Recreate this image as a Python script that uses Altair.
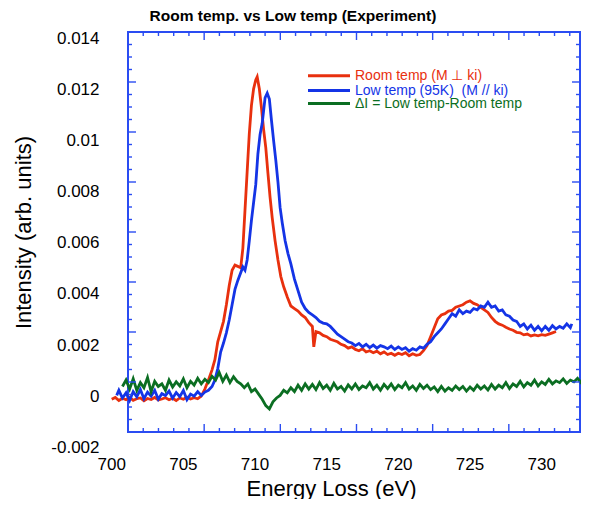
import altair as alt
import pandas as pd

# ---------------- data ----------------
# (energy loss in eV, intensity in arb. units)
room = [
    (700.00, -1.0e-4), (700.25, -0.3e-4), (700.50, -1.5e-4), (700.75, -0.6e-4), (701.00, -1.2e-4),
    (701.25, -0.2e-4), (701.50, -1.4e-4), (701.75, -0.8e-4), (702.00, -0.5e-4), (702.25, -1.6e-4),
    (702.50, -0.7e-4), (702.75, -1.1e-4), (703.00, -0.3e-4), (703.25, -1.3e-4), (703.50, -0.9e-4),
    (703.75, -0.4e-4), (704.00, -1.2e-4), (704.25, -0.6e-4), (704.50, -1.5e-4), (704.75, -0.5e-4),
    (705.00, -1.0e-4), (705.25, -0.2e-4), (705.50, -0.9e-4), (705.75, -0.4e-4), (706.00, -0.8e-4),
    (706.25, 0.2e-4), (706.50, 3.0e-4), (706.75, 6.5e-4), (707.00, 10.5e-4), (707.20, 14.5e-4),
    (707.40, 21.5e-4), (707.60, 25.5e-4), (707.80, 29.5e-4), (708.00, 36.0e-4), (708.20, 43.5e-4),
    (708.40, 49.5e-4), (708.60, 51.5e-4), (708.80, 51.0e-4), (709.00, 50.5e-4), (709.15, 58.0e-4),
    (709.30, 73.0e-4), (709.45, 88.0e-4), (709.60, 103.0e-4), (709.75, 114.0e-4), (709.90, 120.5e-4),
    (710.05, 124.0e-4), (710.15, 125.2e-4), (710.30, 120.5e-4), (710.45, 113.0e-4), (710.60, 104.5e-4),
    (710.75, 97.5e-4), (710.90, 87.5e-4), (711.05, 78.0e-4), (711.20, 70.0e-4), (711.40, 61.0e-4),
    (711.60, 53.5e-4), (711.80, 47.0e-4), (712.00, 43.0e-4), (712.25, 39.0e-4), (712.50, 35.5e-4),
    (712.75, 34.5e-4), (713.00, 33.5e-4), (713.25, 32.0e-4), (713.50, 31.0e-4), (713.75, 29.0e-4),
    (714.00, 27.5e-4), (714.10, 19.5e-4), (714.25, 25.5e-4), (714.50, 25.0e-4), (714.75, 24.0e-4),
    (715.00, 23.5e-4), (715.25, 22.5e-4), (715.50, 22.0e-4), (715.75, 21.5e-4), (716.00, 20.5e-4),
    (716.25, 20.0e-4), (716.50, 19.0e-4), (716.75, 19.5e-4), (717.00, 18.5e-4), (717.25, 18.0e-4),
    (717.50, 18.8e-4), (717.75, 17.5e-4), (718.00, 18.0e-4), (718.25, 17.2e-4), (718.50, 17.8e-4),
    (718.75, 16.8e-4), (719.00, 17.5e-4), (719.25, 16.5e-4), (719.50, 17.0e-4), (719.75, 16.2e-4),
    (720.00, 17.0e-4), (720.25, 16.5e-4), (720.50, 17.2e-4), (720.75, 16.0e-4), (721.00, 16.8e-4),
    (721.25, 16.2e-4), (721.50, 16.5e-4), (721.75, 18.0e-4), (722.00, 20.0e-4), (722.25, 23.5e-4),
    (722.50, 27.0e-4), (722.75, 30.5e-4), (723.00, 32.0e-4), (723.25, 32.5e-4), (723.50, 33.5e-4),
    (723.75, 33.8e-4), (724.00, 35.0e-4), (724.25, 35.5e-4), (724.50, 36.0e-4), (724.75, 37.0e-4),
    (725.00, 37.5e-4), (725.25, 36.5e-4), (725.50, 36.0e-4), (725.75, 35.0e-4), (726.00, 34.0e-4),
    (726.25, 33.0e-4), (726.50, 31.0e-4), (726.75, 29.5e-4), (727.00, 28.5e-4), (727.25, 28.0e-4),
    (727.50, 27.2e-4), (727.75, 26.5e-4), (728.00, 26.0e-4), (728.25, 25.2e-4), (728.50, 25.0e-4),
    (728.75, 24.2e-4), (729.00, 24.5e-4), (729.25, 23.8e-4), (729.50, 24.2e-4), (729.75, 23.8e-4),
    (730.00, 24.3e-4), (730.25, 24.0e-4), (730.50, 24.5e-4), (730.75, 25.0e-4), (731.00, 25.5e-4),
]

low = [
    (700.35, 0.5e-4), (700.50, 2.5e-4), (700.75, -0.5e-4), (701.00, 1.5e-4), (701.25, -1.5e-4),
    (701.50, 2.0e-4), (701.75, 0.0e-4), (702.00, 2.8e-4), (702.25, -0.8e-4), (702.50, 1.8e-4),
    (702.75, 0.2e-4), (703.00, 2.5e-4), (703.25, -1.0e-4), (703.50, 1.2e-4), (703.75, 0.5e-4),
    (704.00, 2.2e-4), (704.25, -0.6e-4), (704.50, 1.6e-4), (704.75, 0.0e-4), (705.00, 2.4e-4),
    (705.25, -1.2e-4), (705.50, 1.0e-4), (705.75, 0.2e-4), (706.00, 2.0e-4), (706.25, 0.5e-4),
    (706.50, 1.8e-4), (706.75, 2.5e-4), (707.00, 4.0e-4), (707.20, 6.5e-4), (707.40, 11.0e-4),
    (707.60, 17.5e-4), (707.80, 21.0e-4), (708.00, 25.0e-4), (708.20, 30.0e-4), (708.40, 36.0e-4),
    (708.60, 42.0e-4), (708.80, 45.5e-4), (709.00, 48.5e-4), (709.15, 50.8e-4), (709.30, 49.5e-4),
    (709.45, 53.5e-4), (709.60, 61.0e-4), (709.75, 69.0e-4), (709.90, 76.0e-4), (710.05, 83.0e-4),
    (710.20, 95.0e-4), (710.35, 102.5e-4), (710.50, 107.0e-4), (710.60, 112.0e-4), (710.70, 117.0e-4),
    (710.85, 118.8e-4), (711.00, 116.5e-4), (711.15, 108.0e-4), (711.30, 100.0e-4), (711.45, 92.5e-4),
    (711.60, 84.0e-4), (711.75, 74.0e-4), (711.90, 68.0e-4), (712.10, 61.0e-4), (712.30, 56.0e-4),
    (712.50, 52.0e-4), (712.75, 46.0e-4), (713.00, 41.5e-4), (713.25, 37.0e-4), (713.50, 34.5e-4),
    (713.75, 33.0e-4), (714.00, 32.0e-4), (714.25, 31.0e-4), (714.50, 29.5e-4), (714.75, 28.8e-4),
    (715.00, 28.5e-4), (715.25, 27.5e-4), (715.50, 26.0e-4), (715.75, 24.5e-4), (716.00, 23.5e-4),
    (716.25, 22.5e-4), (716.50, 21.5e-4), (716.75, 21.0e-4), (717.00, 20.0e-4), (717.25, 20.8e-4),
    (717.50, 19.5e-4), (717.75, 20.5e-4), (718.00, 19.2e-4), (718.25, 20.2e-4), (718.50, 19.0e-4),
    (718.75, 20.0e-4), (719.00, 19.5e-4), (719.25, 18.8e-4), (719.50, 19.8e-4), (719.75, 18.5e-4),
    (720.00, 19.5e-4), (720.25, 18.5e-4), (720.50, 19.2e-4), (720.75, 17.8e-4), (721.00, 18.8e-4),
    (721.25, 18.2e-4), (721.50, 19.5e-4), (721.75, 19.0e-4), (722.00, 20.5e-4), (722.25, 21.5e-4),
    (722.50, 23.5e-4), (722.75, 25.0e-4), (723.00, 26.5e-4), (723.25, 28.5e-4), (723.50, 30.5e-4),
    (723.75, 32.5e-4), (724.00, 31.5e-4), (724.25, 34.0e-4), (724.50, 32.5e-4), (724.75, 33.5e-4),
    (725.00, 33.0e-4), (725.25, 34.5e-4), (725.50, 34.0e-4), (725.75, 35.5e-4), (726.00, 35.0e-4),
    (726.25, 37.0e-4), (726.50, 35.0e-4), (726.75, 35.5e-4), (727.00, 33.5e-4), (727.25, 34.0e-4),
    (727.50, 32.0e-4), (727.75, 31.5e-4), (728.00, 30.0e-4), (728.25, 29.5e-4), (728.50, 27.5e-4),
    (728.75, 28.5e-4), (729.00, 26.5e-4), (729.25, 28.0e-4), (729.50, 26.0e-4), (729.75, 27.5e-4),
    (730.00, 25.8e-4), (730.25, 27.5e-4), (730.50, 26.0e-4), (730.75, 27.8e-4), (731.00, 26.5e-4),
    (731.25, 27.5e-4), (731.50, 26.8e-4), (731.75, 28.5e-4), (732.00, 27.0e-4), (732.10, 28.5e-4),
]

diff = [
    (700.75, 4.0e-4), (701.00, 6.5e-4), (701.25, 3.0e-4), (701.50, 7.0e-4), (701.75, 2.5e-4),
    (702.00, 5.5e-4), (702.25, 3.5e-4), (702.50, 7.5e-4), (702.75, 2.0e-4), (703.00, 6.0e-4),
    (703.25, 4.0e-4), (703.50, 5.0e-4), (703.75, 2.5e-4), (704.00, 6.5e-4), (704.25, 3.8e-4),
    (704.50, 5.8e-4), (704.75, 4.2e-4), (705.00, 7.0e-4), (705.25, 3.5e-4), (705.50, 6.0e-4),
    (705.75, 4.5e-4), (706.00, 7.2e-4), (706.25, 5.0e-4), (706.50, 6.8e-4), (706.75, 5.5e-4),
    (707.00, 8.0e-4), (707.25, 6.5e-4), (707.50, 9.5e-4), (707.75, 6.0e-4), (708.00, 8.5e-4),
    (708.25, 5.5e-4), (708.50, 7.8e-4), (708.75, 6.0e-4), (709.00, 5.0e-4), (709.25, 3.5e-4),
    (709.50, 5.0e-4), (709.75, 2.0e-4), (710.00, 3.0e-4), (710.25, 1.0e-4), (710.50, -1.0e-4),
    (710.75, -3.5e-4), (711.00, -4.8e-4), (711.25, -2.0e-4), (711.50, -0.5e-4), (711.75, 0.5e-4),
    (712.00, 2.5e-4), (712.25, 1.5e-4), (712.50, 3.5e-4), (712.75, 2.0e-4), (713.00, 4.5e-4),
    (713.25, 2.5e-4), (713.50, 5.0e-4), (713.75, 3.0e-4), (714.00, 4.8e-4), (714.25, 2.8e-4),
    (714.50, 5.5e-4), (714.75, 3.2e-4), (715.00, 4.5e-4), (715.25, 2.5e-4), (715.50, 5.2e-4),
    (715.75, 3.0e-4), (716.00, 4.0e-4), (716.25, 2.2e-4), (716.50, 4.6e-4), (716.75, 3.0e-4),
    (717.00, 5.0e-4), (717.25, 2.8e-4), (717.50, 4.2e-4), (717.75, 3.5e-4), (718.00, 5.5e-4),
    (718.25, 3.0e-4), (718.50, 4.5e-4), (718.75, 2.5e-4), (719.00, 4.8e-4), (719.25, 3.2e-4),
    (719.50, 5.0e-4), (719.75, 2.8e-4), (720.00, 4.5e-4), (720.25, 3.5e-4), (720.50, 5.5e-4),
    (720.75, 3.0e-4), (721.00, 4.2e-4), (721.25, 2.5e-4), (721.50, 4.8e-4), (721.75, 3.2e-4),
    (722.00, 4.5e-4), (722.25, 2.8e-4), (722.50, 3.8e-4), (722.75, 2.0e-4), (723.00, 4.0e-4),
    (723.25, 2.2e-4), (723.50, 3.5e-4), (723.75, 2.5e-4), (724.00, 4.2e-4), (724.25, 2.8e-4),
    (724.50, 4.0e-4), (724.75, 2.2e-4), (725.00, 3.8e-4), (725.25, 2.5e-4), (725.50, 4.5e-4),
    (725.75, 3.0e-4), (726.00, 4.2e-4), (726.25, 2.6e-4), (726.50, 4.8e-4), (726.75, 3.0e-4),
    (727.00, 4.5e-4), (727.25, 3.5e-4), (727.50, 5.5e-4), (727.75, 3.2e-4), (728.00, 5.0e-4),
    (728.25, 4.0e-4), (728.50, 6.0e-4), (728.75, 3.8e-4), (729.00, 5.5e-4), (729.25, 4.5e-4),
    (729.50, 6.5e-4), (729.75, 4.2e-4), (730.00, 5.8e-4), (730.25, 4.8e-4), (730.50, 6.8e-4),
    (730.75, 5.0e-4), (731.00, 6.2e-4), (731.25, 5.5e-4), (731.50, 7.0e-4), (731.75, 5.2e-4),
    (732.00, 6.5e-4), (732.25, 5.8e-4), (732.50, 7.2e-4), (732.75, 5.5e-4), (733.00, 6.8e-4),
    (733.25, 6.0e-4),
]

series_names = ["Room temp (M ⊥ ki)", "Low temp (95K)\u00a0 (M // ki)", "ΔI = Low temp-Room temp"]
series_colors = ["#e8300e", "#1434e6", "#0b6e22"]
legend_rows = [0, 1, 2]

x_tick_labels = [700, 705, 710, 715, 720, 725, 730]
y_tick_values = [0.014, 0.012, 0.01, 0.008, 0.006, 0.004, 0.002, 0.0, -0.002]
y_tick_labels = ["0.014", "0.012", "0.01", "0.008", "0.006", "0.004", "0.002", "0", "-0.002"]

# ---------------- layout / style ----------------
X_DOMAIN = [701.137, 732.673]
Y_DOMAIN = [-0.001382, 0.014274]
PLOT_W, PLOT_H = 452, 400
FRAME = "#2a4cf2"
FONT = "Liberation Sans"
MAJ, MIN = 8, 4

rows = []
for name, pts in zip(series_names, [room, low, diff]):
    for e, i in pts:
        rows.append({"energy": e, "intensity": i, "series": name})
df = pd.DataFrame(rows)

# frame tick positions (inward ticks on all four sides of the box)
X_TICK_STEP = 1.0628
x_major_ticks = [X_DOMAIN[0] + k * X_TICK_STEP for k in range(5, 30, 5)]
x_minor_ticks = [X_DOMAIN[0] + k * X_TICK_STEP for k in range(1, 30) if k % 5]
y_step = (Y_DOMAIN[1] - Y_DOMAIN[0]) / 32
y_major_ticks = [Y_DOMAIN[0] + k * y_step for k in range(4, 32, 4)]
y_minor_ticks = [Y_DOMAIN[0] + k * y_step for k in range(1, 32) if k % 4]

xs = alt.Scale(domain=X_DOMAIN, nice=False, zero=False)
ys = alt.Scale(domain=Y_DOMAIN, nice=False, zero=False)
cs = alt.Scale(domain=series_names, range=series_colors)
color = alt.Color("series:N", scale=cs, legend=None)

title_axis_common = dict(labels=False, ticks=False, domain=False, grid=False,
                         titleFont=FONT, titleFontSize=22, titleFontWeight="normal",
                         titleColor="black", titleAlign="center", titleBaseline="alphabetic")

lines = alt.Chart(df).mark_line(strokeWidth=2.8).encode(
    x=alt.X("energy:Q", scale=xs, axis=alt.Axis(
        orient="bottom", title="Energy Loss (eV)", titleX=203, titleY=63,
        **title_axis_common)),
    y=alt.Y("intensity:Q", scale=ys, axis=alt.Axis(
        orient="left", title="Intensity (arb. units)", titleX=-98, titleY=200,
        titleAngle=270, **title_axis_common)),
    color=color,
)


def x_ticks(values, y_from, y_to):
    return alt.Chart(pd.DataFrame({"t": values})).mark_rule(
        color=FRAME, strokeWidth=1.4
    ).encode(
        x=alt.X("t:Q", scale=xs, axis=None),
        y=alt.value(y_from), y2=alt.value(y_to),
    )


def y_ticks(values, x_from, x_to):
    return alt.Chart(pd.DataFrame({"t": values})).mark_rule(
        color=FRAME, strokeWidth=1.4
    ).encode(
        y=alt.Y("t:Q", scale=ys, axis=None),
        x=alt.value(x_from), x2=alt.value(x_to),
    )


ticks = [
    x_ticks(x_major_ticks, PLOT_H - MAJ, PLOT_H),
    x_ticks(x_minor_ticks, PLOT_H - MIN, PLOT_H),
    x_ticks(x_major_ticks, 0, MAJ),
    x_ticks(x_minor_ticks, 0, MIN),
    y_ticks(y_major_ticks, 0, MAJ),
    y_ticks(y_minor_ticks, 0, MIN),
    y_ticks(y_major_ticks, PLOT_W - MAJ, PLOT_W),
    y_ticks(y_minor_ticks, PLOT_W - MIN, PLOT_W),
]

xlab = alt.Chart(pd.DataFrame({"e": x_tick_labels})).mark_text(
    font=FONT, fontSize=17, align="center", baseline="middle", color="black"
).encode(
    x=alt.X("e:Q", scale=xs, axis=None),
    y=alt.value(433),
    text=alt.Text("e:Q", format="d"),
)

ylab = alt.Chart(pd.DataFrame({"v": y_tick_values, "lab": y_tick_labels})).mark_text(
    font=FONT, fontSize=17, align="right", baseline="middle", color="black"
).encode(
    x=alt.value(-28.5),
    y=alt.Y("v:Q", scale=ys, axis=None),
    text="lab:N",
)

leg_df = pd.DataFrame({"series": series_names, "row": legend_rows})
leg_y = alt.Y("row:Q", scale=alt.Scale(domain=[0, 1, 2], range=[43.8, 58.6, 71.6]), axis=None)
leg_rule = alt.Chart(leg_df).mark_rule(strokeWidth=3).encode(
    x=alt.value(180), x2=alt.value(222), y=leg_y, color=color,
)
leg_text = alt.Chart(leg_df).mark_text(
    font=FONT, fontSize=14, align="left", baseline="middle"
).encode(
    x=alt.value(227), y=leg_y, text="series:N", color=color,
)

chart = (
    alt.layer(lines, *ticks, xlab, ylab, leg_rule, leg_text)
    .resolve_scale(y="independent")
    .resolve_axis(x="independent", y="independent")
    .properties(
        width=PLOT_W,
        height=PLOT_H,
        autosize=alt.AutoSizeParams(type="none"),
        padding={"left": 120, "top": 24, "right": 1, "bottom": 67},
        background="white",
        title=alt.TitleParams(
            "Room temp. vs Low temp (Experiment)", font=FONT, fontSize=15.5,
            fontWeight="bold", color="black", anchor="middle", frame="group",
            dx=-61, dy=17.5, baseline="alphabetic", offset=11.5,
        ),
    )
    .configure_view(stroke=FRAME, strokeWidth=2)
)

chart.save("out.html", embed_options={"renderer": "svg", "actions": False})
